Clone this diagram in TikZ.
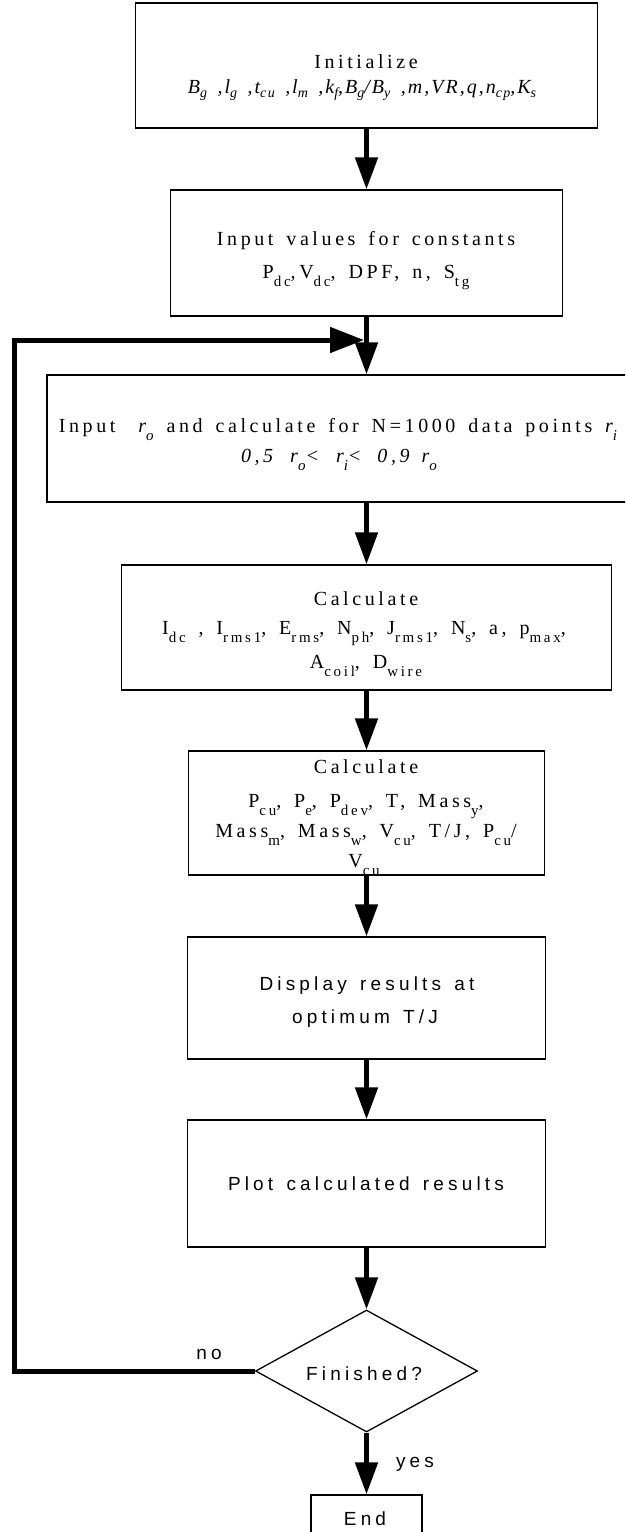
\documentclass[tikz,border=0pt]{standalone}
\usepackage{fontspec}
\usetikzlibrary{arrows.meta,shapes.geometric}
\newfontfamily\ser{Liberation Serif}[LetterSpace=18,WordSpace=1.5]
\newfontfamily\sanf{Liberation Sans}[LetterSpace=22,WordSpace=1.4]
\newcommand\sbx[1]{\raisebox{-8pt}{\fontsize{15}{15}\selectfont #1}}
\newcommand\sbi[1]{\raisebox{-4pt}{\fontsize{14}{14}\selectfont #1}}
\begin{document}
\begin{tikzpicture}[x=1pt,y=-1pt,
  box/.style={draw, line width=1.3pt, rectangle, inner sep=0pt},
  st/.style={anchor=base, inner sep=0pt, font=\ser\fontsize{20}{24}\selectfont},
  ss/.style={anchor=base, inner sep=0pt, font=\sanf\fontsize{19}{23}\selectfont},
  arr/.style={line width=5pt, -{Triangle[width=22pt,length=32pt]}},
  looparr/.style={line width=5pt, -{Triangle[width=25pt,length=34pt]}}]
\useasboundingbox (0,0) rectangle (625,1532);
\clip (0,0) rectangle (625,1532);
% boxes
\node[box, minimum width=462pt, minimum height=125pt] (b1) at (366.5,65.5) {};
\node[box, minimum width=392pt, minimum height=126pt] (b2) at (366.5,253) {};
\node[box, minimum width=639pt, minimum height=127pt] (b3) at (366.5,438.5) {};
\node[box, minimum width=490pt, minimum height=125pt] (b4) at (366.5,627.5) {};
\node[box, minimum width=356pt, minimum height=124pt] (b5) at (366.5,813) {};
\node[box, minimum width=358pt, minimum height=122pt] (b6) at (366.5,998) {};
\node[box, minimum width=358pt, minimum height=127pt] (b7) at (366.5,1183.5) {};
\node[draw, line width=1.3pt, shape=diamond, inner sep=0pt, minimum width=222pt, minimum height=122pt] (dia) at (366.5,1371) {};
\node[box, minimum width=111pt, minimum height=45pt] (endb) at (366.5,1517.5) {};
% texts
\node[st] (t1a) at (366,68) {Initialize};
\node[st] (t1b) at (362,93) {\addfontfeature{LetterSpace=10}\itshape B\sbi{g} ,l\sbi{g} ,t\sbi{cu} ,l\sbi{m} ,k\sbi{f},B\sbi{g}/B\sbi{y} ,m,VR,q,n\sbi{cp},K\sbi{s}};
\node[st] (t2a) at (366,245) {Input values for constants};
\node[st] (t2b) at (366,278) {P\sbx{dc},V\sbx{dc}, DPF, n, S\sbx{tg}};
\node[st] (t3a) at (338,432) {Input\hspace{10pt} \textit{r\sbx{o}} and calculate for N=1000 data points \textit{r\sbx{i}}};
\node[st] (t3b) at (339,462) {\itshape 0,5\hspace{17pt}r\sbx{o}<\hspace{17pt}r\sbx{i}<\hspace{16pt}0,9\hspace{12pt}r\sbx{o}};
\node[st] (t4a) at (366,605) {Calculate};
\node[st] (t4b) at (364,634) {I\sbx{dc} , I\sbx{rms1}, E\sbx{rms}, N\sbx{ph}, J\sbx{rms1}, N\sbx{s}, a, p\sbx{max},};
\node[st] (t4c) at (366,668) {A\sbx{coil}, D\sbx{wire}};
\node[st] (t5a) at (366,773) {Calculate};
\node[st] (t5b) at (366,807) {P\sbx{cu}, P\sbx{e}, P\sbx{dev}, T, Mass\sbx{y},};
\node[st] (t5c) at (366,837) {Mass\sbx{m}, Mass\sbx{w}, V\sbx{cu}, T/J, P\sbx{cu}/};
\node[st] (t5d) at (364,867) {V\sbx{cu}};
\node[ss] (t6a) at (367,990) {Display results at};
\node[ss] (t6b) at (365,1023) {optimum T/J};
\node[ss] (t7) at (366,1190) {Plot calculated results};
\node[ss] (tdia) at (364,1380) {Finished?};
\node[ss] (tend) at (365,1525) {End};
\node[ss] (tyes) at (415,1467) {yes};
\node[ss] (tno) at (209,1359) {no};
% connectors
\coordinate (jn) at (364,340);
\coordinate (lc) at (14,1371);
\draw[arr] (b1.south) -- (b2.north);
\draw[arr] (b2.south) -- (b3.north);
\draw[arr] (b3.south) -- (b4.north);
\draw[arr] (b4.south) -- (b5.north);
\draw[arr] (b5.south) -- (b6.north);
\draw[arr] (b6.south) -- (b7.north);
\draw[arr] (b7.south) -- (dia.north);
\draw[arr] (dia.south) -- (endb.north);
\draw[looparr] (dia.west) -- (lc) |- (jn);
\end{tikzpicture}
\end{document}
